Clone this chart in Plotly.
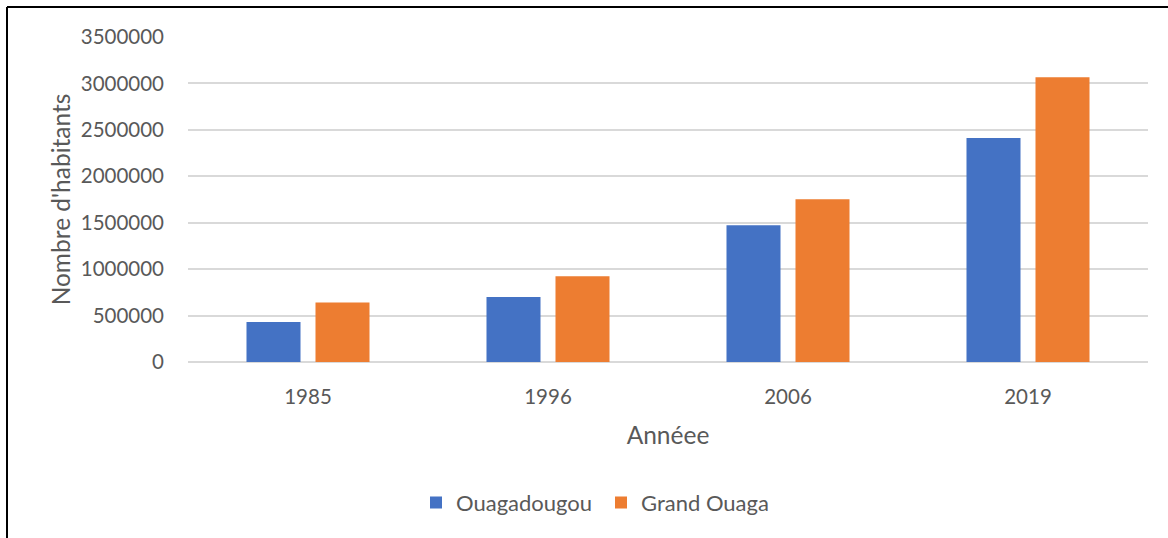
import plotly.graph_objects as go

years = ["1985", "1996", "2006", "2019"]
ouagadougou = [430000, 700000, 1472000, 2412000]
grand_ouaga = [640000, 923000, 1752000, 3066000]
y_ticks = [0, 500000, 1000000, 1500000, 2000000, 2500000, 3000000, 3500000]

FONT = "Lato, 'Open Sans', sans-serif"
GREY = "#595959"

fig = go.Figure()
fig.add_trace(go.Bar(x=years, y=ouagadougou, name="Ouagadougou",
                     marker=dict(color="#4472C4", line=dict(width=0))))
fig.add_trace(go.Bar(x=years, y=grand_ouaga, name="Grand Ouaga",
                     marker=dict(color="#ED7D31", line=dict(width=0))))

fig.update_layout(
    width=1168, height=538,
    margin=dict(l=188, r=20, t=37, b=176),
    paper_bgcolor="white", plot_bgcolor="white",
    barmode="group", bargap=0.425, bargroupgap=0.217,
    font=dict(family=FONT, color=GREY, size=20),
    showlegend=True,
    legend=dict(orientation="h", x=(416 - 188) / 960, xanchor="left", y=-0.368, yanchor="top",
                font=dict(size=22, color=GREY), itemwidth=30, entrywidth=140,
                traceorder="normal"),
    xaxis=dict(type="category", showgrid=False, showline=False, zeroline=False,
               ticks="", tickfont=dict(size=20.5, color=GREY), ticklabelstandoff=20,
               title=dict(text="Annéee", font=dict(size=24.5, color=GREY), standoff=20)),
    yaxis=dict(range=[0, 3500000], tickvals=y_ticks, ticktext=[str(v) for v in y_ticks],
               showgrid=True, gridcolor="#d9d9d9", gridwidth=1.5,
               zeroline=True, zerolinecolor="#d9d9d9", zerolinewidth=1.5,
               showline=False, ticks="", ticklabelstandoff=23,
               tickfont=dict(size=20.5, color=GREY),
               title=dict(text="Nombre d'habitants", font=dict(size=24.5, color=GREY), standoff=3)),
    shapes=[
        dict(type="line", xref="paper", yref="paper", x0=(7 - 188) / 960, x1=(7 - 188) / 960,
             y0=1 + 30 / 325, y1=-176 / 325 - 0.01, line=dict(color="black", width=2)),
        dict(type="line", xref="paper", yref="paper", x0=(7 - 188) / 960, x1=1 + 25 / 960,
             y0=1 + 30 / 325, y1=1 + 30 / 325, line=dict(color="black", width=2)),
    ],
)

fig.write_html("out.html", config={"displayModeBar": False},
               post_script="document.body.style.margin='0';document.body.style.overflow='hidden';")
